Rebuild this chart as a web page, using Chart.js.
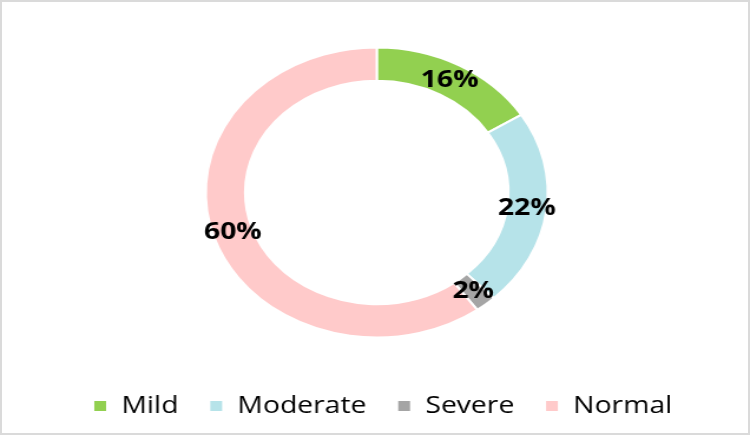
<!DOCTYPE html>
<html>
<head>
<meta charset="utf-8">
<script src="https://cdn.jsdelivr.net/npm/chart.js@4"></script>
<style>
  html, body { margin: 0; padding: 0; background: #fff; }
  #frame {
    position: relative;
    width: 750px;
    height: 435px;
    overflow: hidden;
    box-sizing: border-box;
    border: 2px solid #dadada;
    background: #fff;
  }
  /* reference picture is stretched sideways, so stretch the canvas the same way */
  #chart {
    position: absolute;
    left: -2px;
    top: -2px;
    transform: scaleX(1.1792);
    transform-origin: 0 0;
  }
</style>
</head>
<body>
<div id="frame">
  <canvas id="chart" width="636" height="428"></canvas>
</div>
<script>
const categories = ["Mild", "Moderate", "Severe", "Normal"];
const shares = [16, 22, 2, 60];
const sliceColors = ["#92d050", "#b6e3e9", "#a5a5a5", "#ffcaca"];

// draws the % label in the middle of each ring slice
const sliceLabels = {
  id: "sliceLabels",
  afterDatasetsDraw(chart) {
    const ctx = chart.ctx;
    const meta = chart.getDatasetMeta(0);
    ctx.save();
    ctx.font = "bold 24px 'Open Sans'";
    ctx.fillStyle = "#000";
    ctx.textAlign = "center";
    ctx.textBaseline = "middle";
    meta.data.forEach((arc, i) => {
      const pos = arc.tooltipPosition();
      ctx.fillText(shares[i] + "%", pos.x, pos.y);
    });
    ctx.restore();
  }
};

// nudge the legend a little to the right, like in the original
const legendNudge = {
  id: "legendNudge",
  afterLayout(chart) {
    chart.legend.left += 5;
    chart.legend.right += 5;
  }
};

new Chart(document.getElementById("chart"), {
  type: "doughnut",
  data: {
    labels: categories,
    datasets: [{
      data: shares,
      backgroundColor: sliceColors,
      borderColor: "#ffffff",
      borderWidth: 2,
      hoverOffset: 0
    }]
  },
  options: {
    responsive: false,
    animation: false,
    radius: 145,
    cutout: "77%",
    layout: { padding: { top: 17, left: 3, right: 0, bottom: 0 } },
    plugins: {
      tooltip: { enabled: false },
      legend: {
        position: "bottom",
        labels: {
          boxWidth: 12,
          boxHeight: 12,
          padding: 26,
          color: "#000",
          font: { family: "'Open Sans'", size: 24 }
        }
      }
    }
  },
  plugins: [sliceLabels, legendNudge]
});
</script>
</body>
</html>
